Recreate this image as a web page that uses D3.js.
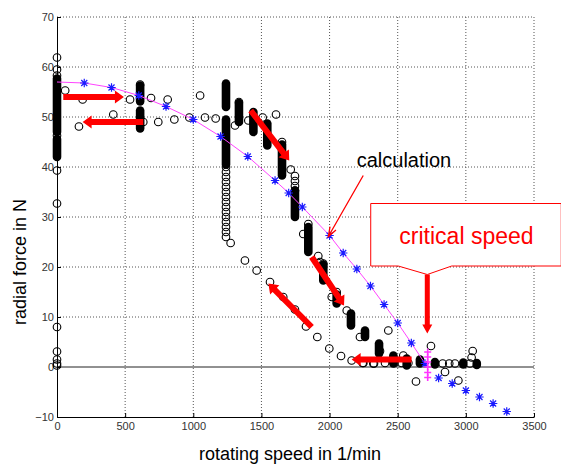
<!DOCTYPE html>
<html>
<head>
<meta charset="utf-8">
<script src="https://cdn.jsdelivr.net/npm/d3@7"></script>
<style>
  body { margin: 0; background: #fff; }
  text { font-family: Arial, "Liberation Sans", sans-serif; }
</style>
</head>
<body>
<div id="graph"></div>
<script>
// ---- data ----
const xTicks = [0, 500, 1000, 1500, 2000, 2500, 3000, 3500];
const yTicks = [-10, 0, 10, 20, 30, 40, 50, 60, 70];

// calculation (magenta line, blue stars)
const calcSpeed = [0, 200, 400, 600, 800, 1000, 1200, 1400, 1600, 1700, 1800, 2000, 2100, 2200, 2300, 2400, 2500, 2600, 2700];
const calcForce = [57, 56.8, 55.9, 54.3, 52.1, 49.5, 46.1, 42.1, 37.3, 34.8, 32, 26.3, 22.8, 19.6, 16.2, 12.5, 8.8, 4.8, 0.7];
// calculation beyond the critical speed (stars only)
const extraSpeed = [2800, 2900, 3000, 3100, 3200, 3300];
const extraForce = [-2.2, -3.3, -4.7, -6, -7.3, -8.9];
// magenta markers at the critical speed
const critSpeed = 2720;
const critForce = [3, 2, 1, 0, -1.1, -2.1];

// measurement: single circles [speed, force]
const measured = [
  [0, 61.9], [0, 59.5], [0, 58.3], [0, 46.3], [0, 39.3], [0, 32.7], [0, 8], [0, 3.1], [0, 1.5], [0, 0.7], [0, 0.3],
  [60, 55.3], [188, 53.5], [161, 48.1], [413, 50.5], [536, 53.5], [610, 56.5], [633, 49], [690, 53.8], [743, 49],
  [812, 53.5], [861, 49.5], [971, 49.9], [1050, 54.3], [1086, 49.9], [1164, 49.7],
  [1240, 40], [1240, 39], [1240, 38], [1240, 37], [1240, 36], [1240, 35], [1240, 34], [1240, 33], [1240, 32],
  [1240, 31], [1240, 30], [1240, 29], [1240, 28], [1240, 27], [1240, 26],
  [1274, 24.8], [1379, 21.3], [1465, 19.3], [1563, 17], [1660, 14], [1746, 11.5], [1827, 8.1], [1910, 6],
  [1998, 3.7], [2084, 2.2], [2162, 1.3], [2243, 0.8], [2321, 0.7],
  [1306, 48.3], [1335, 53], [1404, 49.3], [1509, 49.9], [1607, 50.5], [1651, 45], [1715, 39.5],
  [1746, 38.2], [1746, 37.2], [1746, 36.2], [1746, 35.3],
  [1807, 26.6], [1844, 28.6], [1917, 22.2], [1930, 21], [1954, 20.7], [2016, 14], [2052, 15], [2126, 11.3],
  [2223, 6], [2431, 7.3], [2370, 3.2], [2248, 0.8], [2326, 0.7], [2407, 0.8], [2475, 0.8], [2529, 0.8],
  [2578, 0.8], [2541, 2.3], [2744, 4.2], [2830, 0.7], [2878, 0.7], [2920, 0.7], [3030, 0.7], [3042, 1.9],
  [3050, 3.2], [2847, -1], [2945, -2.7], [2634, -2.9]
];
// measurement: dense runs of overlapping circles [speed, forceLow, forceHigh]
const measuredRuns = [
  [0, 47, 57.7], [0, 42, 45.6], [610, 53.1, 56.3], [610, 47.7, 51.3],
  [1240, 52, 56.7], [1240, 40.5, 49.5], [1335, 49, 52.8], [1441, 47, 51], [1543, 44.3, 48.7],
  [1651, 38.3, 44.5], [1746, 30, 35.3], [1844, 23, 28], [1954, 17.3, 20.5], [2052, 12.7, 14.5],
  [2157, 8.3, 10.7], [2260, 6, 7.3], [2363, 2.7, 4.7], [2468, 0.7, 2.3], [2566, 0.3, 1.7],
  [2663, 0.7, 1.5], [2773, 0.5, 1], [2981, 0.5, 0.9], [3080, 0.4, 0.8]
];

// red annotation arrows [x1, y1, x2, y2] in data units (head at x2, y2)
const redArrows = [
  [46, 54, 491, 54],
  [633, 49, 188, 49],
  [1421, 51.3, 1704, 41.3],
  [1869, 22, 2106, 12.3],
  [1869, 8, 1551, 16.7],
  [2602, 1.5, 2162, 1.5],
  [2717, 18.5, 2717, 6.7]
];

// ---- layout ----
const width = 561, height = 469;
const margin = {top: 17, right: 27, bottom: 52, left: 57};

let svg = d3.select("#graph")
  .append("svg")
  .attr("width", width)
  .attr("height", height);

let x = d3.scaleLinear().domain([0, 3500]).range([margin.left, width - margin.right]);
let y = d3.scaleLinear().domain([-10, 70]).range([height - margin.bottom, margin.top]);

// dotted grid
svg.append("g").selectAll("line").data(xTicks.slice(1)).join("line")
  .attr("x1", d => x(d)).attr("x2", d => x(d))
  .attr("y1", y(-10)).attr("y2", y(70))
  .attr("stroke", "#555").attr("stroke-dasharray", "1,2");
svg.append("g").selectAll("line").data(yTicks.filter(d => d !== -10 && d !== 0)).join("line")
  .attr("x1", x(0)).attr("x2", x(3500))
  .attr("y1", d => y(d)).attr("y2", d => y(d))
  .attr("stroke", "#555").attr("stroke-dasharray", "1,2");

// zero line
svg.append("line")
  .attr("x1", x(0)).attr("x2", x(3500))
  .attr("y1", y(0)).attr("y2", y(0))
  .attr("stroke", "#222");

// axes, ticks pointing inward
let xAxis = svg.append("g")
  .attr("transform", `translate(0, ${y(-10)})`)
  .call(d3.axisBottom(x).tickValues(xTicks).tickFormat(d3.format("d"))
    .tickSizeInner(-4).tickSizeOuter(0).tickPadding(5));
let yAxis = svg.append("g")
  .attr("transform", `translate(${x(0)}, 0)`)
  .call(d3.axisLeft(y).tickValues(yTicks).tickFormat(d3.format("d"))
    .tickSizeInner(-4).tickSizeOuter(0).tickPadding(3));
[xAxis, yAxis].forEach(a => {
  a.selectAll("text").attr("font-size", 11).attr("fill", "#333")
    .attr("font-family", "Arial, 'Liberation Sans', sans-serif");
  a.select(".domain").attr("stroke", "#000");
  a.selectAll(".tick line").attr("stroke", "#000");
});

// axis titles
svg.append("text")
  .attr("x", 290).attr("y", 460)
  .attr("text-anchor", "middle")
  .attr("font-size", 18)
  .text("rotating speed in 1/min");
svg.append("text")
  .attr("transform", "translate(26, 262) rotate(-90)")
  .attr("text-anchor", "middle")
  .attr("font-size", 18)
  .text("radial force in N");

// measurement
svg.append("g").selectAll("rect").data(measuredRuns).join("rect")
  .attr("x", d => x(d[0]) - 4.3)
  .attr("y", d => y(d[2]) - 4.3)
  .attr("width", 8.6)
  .attr("height", d => y(d[1]) - y(d[2]) + 8.6)
  .attr("rx", 4.3)
  .attr("fill", "#000");
svg.append("g").selectAll("circle").data(measured).join("circle")
  .attr("cx", d => x(d[0]))
  .attr("cy", d => y(d[1]))
  .attr("r", 3.8)
  .attr("fill", "none")
  .attr("stroke", "#000")
  .attr("stroke-width", 1.1);

// calculation line
let calcPts = calcSpeed.map((s, i) => [s, calcForce[i]]);
svg.append("path")
  .datum(calcPts)
  .attr("fill", "none")
  .attr("stroke", "#ff44ff")
  .attr("stroke-width", 1)
  .attr("d", d3.line().x(d => x(d[0])).y(d => y(d[1])));

// star = plus + cross
function star(r) {
  let k = r * 0.72;
  return `M${-r},0H${r}M0,${-r}V${r}M${-k},${-k}L${k},${k}M${-k},${k}L${k},${-k}`;
}
let starPts = calcPts.slice(1).concat(extraSpeed.map((s, i) => [s, extraForce[i]]));
svg.append("g").selectAll("path").data(starPts).join("path")
  .attr("transform", d => `translate(${x(d[0])}, ${y(d[1])})`)
  .attr("d", star(4.2))
  .attr("stroke", "#1a1aff")
  .attr("stroke-width", 1.2);

// magenta markers at the critical speed
svg.append("g").selectAll("path").data(critForce).join("path")
  .attr("transform", d => `translate(${x(critSpeed)}, ${y(d)})`)
  .attr("d", "M-3.5,0H3.5M0,-3.5V3.5")
  .attr("stroke", "#ff33ff")
  .attr("stroke-width", 1.6);

// thick red arrows
function arrowPoly(d, w, hl, hw) {
  let p1 = [x(d[0]), y(d[1])], p2 = [x(d[2]), y(d[3])];
  let len = Math.hypot(p2[0] - p1[0], p2[1] - p1[1]);
  let u = [(p2[0] - p1[0]) / len, (p2[1] - p1[1]) / len], n = [-u[1], u[0]];
  let b = [p2[0] - u[0] * hl, p2[1] - u[1] * hl];
  let pts = [
    [p1[0] + n[0] * w / 2, p1[1] + n[1] * w / 2],
    [b[0] + n[0] * w / 2, b[1] + n[1] * w / 2],
    [b[0] + n[0] * hw / 2, b[1] + n[1] * hw / 2],
    p2,
    [b[0] - n[0] * hw / 2, b[1] - n[1] * hw / 2],
    [b[0] - n[0] * w / 2, b[1] - n[1] * w / 2],
    [p1[0] - n[0] * w / 2, p1[1] - n[1] * w / 2]
  ];
  return pts.map(p => p.join(",")).join(" ");
}
svg.append("g").selectAll("polygon").data(redArrows).join("polygon")
  .attr("points", (d, i) => i === 6 ? arrowPoly(d, 5, 9, 10) : arrowPoly(d, 6, 9, 13))
  .attr("fill", "#ff0000");

// "calculation" label with thin arrow
svg.append("text")
  .attr("x", x(2199)).attr("y", y(40.1))
  .attr("font-size", 20)
  .text("calculation");
let ca = [x(2247), y(38.3), x(1991), y(26.1)];
let ang = Math.atan2(ca[3] - ca[1], ca[2] - ca[0]);
svg.append("path")
  .attr("d", `M${ca[0]},${ca[1]}L${ca[2]},${ca[3]}` +
    `M${ca[2] - 10 * Math.cos(ang - 0.35)},${ca[3] - 10 * Math.sin(ang - 0.35)}L${ca[2]},${ca[3]}` +
    `L${ca[2] - 10 * Math.cos(ang + 0.35)},${ca[3] - 10 * Math.sin(ang + 0.35)}`)
  .attr("fill", "none")
  .attr("stroke", "#ff0000")
  .attr("stroke-width", 1.3);

// "critical speed" callout box
let boxPath = [
  [x(2302), y(32.7)], [x(3700), y(32.7)], [x(3700), y(20.2)], [x(2896), y(20.2)],
  [x(2717), y(18.5)], [x(2504), y(20.2)], [x(2302), y(20.2)]
];
svg.append("path")
  .attr("d", d3.line()(boxPath) + "Z")
  .attr("fill", "#fff")
  .attr("stroke", "#ff0000")
  .attr("stroke-width", 1);
svg.append("text")
  .attr("x", x(2512)).attr("y", y(24.7))
  .attr("font-size", 23)
  .attr("fill", "#ff0000")
  .text("critical speed");
</script>
</body>
</html>
